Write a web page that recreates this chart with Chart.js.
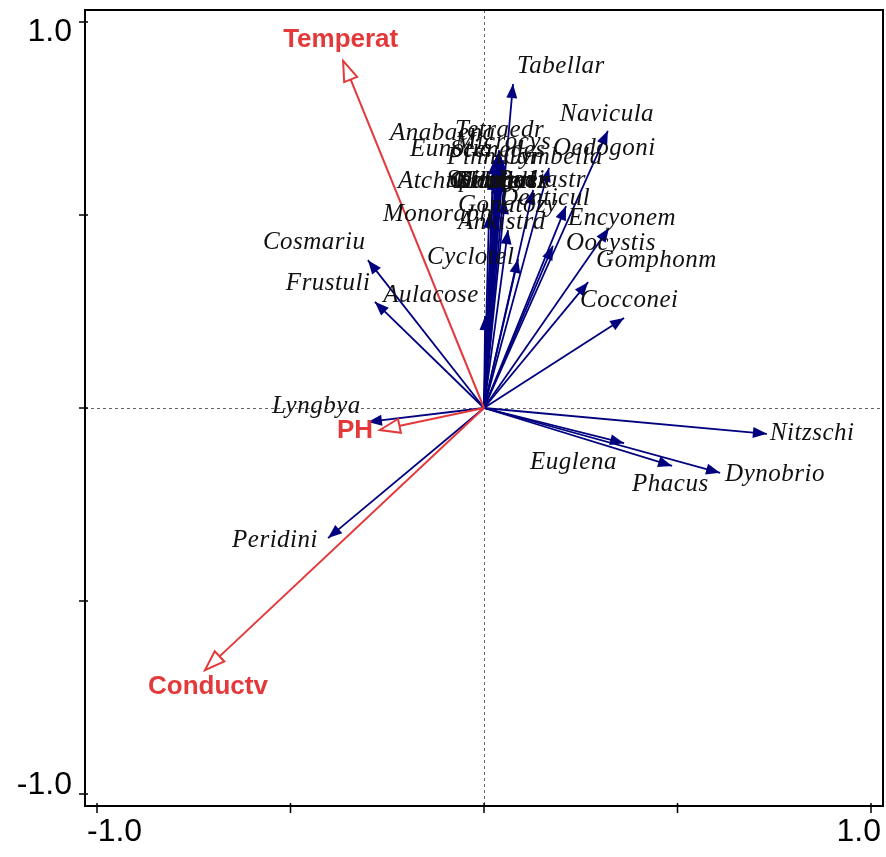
<!DOCTYPE html>
<html>
<head>
<meta charset="utf-8">
<script src="https://cdn.jsdelivr.net/npm/chart.js@4.4.1/dist/chart.umd.min.js"></script>
<style>
  html, body { margin: 0; padding: 0; background: #fff; }
  #chart { display: block; }
</style>
</head>
<body>
<canvas id="chart" width="886" height="857"></canvas>
<script>
// species scores (arrow tips)
var speciesNames = ['Tabellar', 'Navicula', 'Oedogoni', 'Cymbella', 'Tetraedr', 'Microcys',
  'Anabaena', 'Eunotia', 'Scenedes', 'Pinnular', 'Atchnant', 'Chlorell', 'Closteri',
  'Kirchner', 'Selenast', 'Spirogyr', 'Ulothrix', 'Pediastr', 'Gonatozy', 'Monoraph',
  'Ankistrd', 'Denticul', 'Encyonem', 'Oocystis', 'Cyclotel', 'Gomphonm', 'Cocconei',
  'Aulacose', 'Cosmariu', 'Frustuli', 'Lyngbya', 'Peridini', 'Nitzschi', 'Euglena',
  'Phacus', 'Dynobrio'];
var speciesX = [0.075, 0.320, 0.168, 0.049, 0.039, 0.034,
  0.026, 0.031, 0.044, 0.039, 0.023, 0.031, 0.036,
  0.041, 0.047, 0.034, 0.044, 0.127, 0.054, 0.013,
  0.062, 0.212, 0.323, 0.178, 0.088, 0.269, 0.362,
  0.003, -0.300, -0.282, -0.300, -0.403, 0.731, 0.362,
  0.486, 0.610];
var speciesY = [0.839, 0.718, 0.622, 0.642, 0.668, 0.655,
  0.642, 0.630, 0.650, 0.627, 0.601, 0.611, 0.598,
  0.606, 0.596, 0.591, 0.614, 0.565, 0.539, 0.503,
  0.461, 0.523, 0.466, 0.420, 0.386, 0.326, 0.233,
  0.238, 0.383, 0.275, -0.036, -0.337, -0.067, -0.091,
  -0.150, -0.168];

// environmental variables
var envNames = ['Temperat', 'Conductv', 'PH'];
var envX = [-0.364, -0.721, -0.269];
var envY = [0.899, -0.679, -0.057];

var axisTicks = [-1, -0.5, 0, 0.5, 1];
var axisTickLabels = ['-1.0', '', '', '', '1.0'];

// label placement, pixels from the arrow tip (left edge, middle)
var labelOffset = {
  Tabellar: [4, -18], Navicula: [-48, -16], Oedogoni: [4, -19], Cymbella: [0, -3],
  Tetraedr: [-44, -20], Microcys: [-42, -13], Anabaena: [-104, -27], Eunotia: [-86, -15],
  Scenedes: [-51, -7], Pinnular: [-52, -9], Atchnant: [-95, 5], Chlorell: [-47, 9],
  Closteri: [-46, 4], Kirchner: [-45, 7], Selenast: [-44, 3], Spirogyr: [-51, 1],
  Ulothrix: [-41, 10], Pediastr: [-36, -9], Gonatozy: [-47, 5], Monoraph: [-106, 1],
  Ankistrd: [-50, -8], Denticul: [-66, -8], Encyonem: [-41, -10], Oocystis: [13, -2],
  Cyclotel: [-91, -2], Gomphonm: [8, -22], Cocconei: [-44, -18], Aulacose: [-102, -21],
  Cosmariu: [-105, -18], Frustuli: [-89, -18], Lyngbya: [-96, -15], Peridini: [-96, 2],
  Nitzschi: [3, 0], Euglena: [-94, 19], Phacus: [-40, 19], Dynobrio: [5, 2],
  Temperat: [-60, -21], Conductv: [-57, 17], PH: [-43, 1]
};

var BLUE = '#00007f';
var RED = '#e3393b';

function arrowHead(ctx, x0, y0, x1, y1, len, half, filled, color) {
  var ang = Math.atan2(y1 - y0, x1 - x0);
  var bx = x1 - len * Math.cos(ang), by = y1 - len * Math.sin(ang);
  var px = -Math.sin(ang) * half, py = Math.cos(ang) * half;
  ctx.beginPath();
  ctx.moveTo(x1, y1);
  ctx.lineTo(bx + px, by + py);
  ctx.lineTo(bx - px, by - py);
  ctx.closePath();
  if (filled) {
    ctx.fillStyle = color;
    ctx.fill();
  } else {
    ctx.fillStyle = '#fff';
    ctx.fill();
    ctx.strokeStyle = color;
    ctx.lineWidth = 2;
    ctx.stroke();
  }
}

var biplotPlugin = {
  id: 'biplot',
  beforeDatasetsDraw: function(chart) {
    var ctx = chart.ctx, xs = chart.scales.x, ys = chart.scales.y, a = chart.chartArea;
    var x0 = Math.round(xs.getPixelForValue(0)) + 0.5;
    var y0 = Math.round(ys.getPixelForValue(0)) + 0.5;
    ctx.save();
    ctx.strokeStyle = '#666';
    ctx.lineWidth = 1;
    ctx.setLineDash([3, 3]);
    ctx.beginPath();
    ctx.moveTo(x0, a.top);
    ctx.lineTo(x0, a.bottom);
    ctx.moveTo(a.left, y0);
    ctx.lineTo(a.right, y0);
    ctx.stroke();
    ctx.restore();
  },
  afterDatasetsDraw: function(chart) {
    var ctx = chart.ctx, xs = chart.scales.x, ys = chart.scales.y, a = chart.chartArea;
    var ox = xs.getPixelForValue(0), oy = ys.getPixelForValue(0);
    var i, px, py, off;
    ctx.save();

    for (i = 0; i < speciesNames.length; i++) {
      arrowHead(ctx, ox, oy, xs.getPixelForValue(speciesX[i]), ys.getPixelForValue(speciesY[i]), 14, 5.5, true, BLUE);
    }
    for (i = 0; i < envNames.length; i++) {
      arrowHead(ctx, ox, oy, xs.getPixelForValue(envX[i]), ys.getPixelForValue(envY[i]), 20, 7, false, RED);
    }

    ctx.textBaseline = 'middle';
    ctx.textAlign = 'left';
    ctx.font = 'italic 25px "Liberation Serif"';
    ctx.letterSpacing = '0.5px';
    ctx.fillStyle = '#111';
    for (i = 0; i < speciesNames.length; i++) {
      off = labelOffset[speciesNames[i]] || [4, 0];
      px = xs.getPixelForValue(speciesX[i]);
      py = ys.getPixelForValue(speciesY[i]);
      ctx.fillText(speciesNames[i], px + off[0], py + off[1]);
    }
    ctx.letterSpacing = '0px';
    ctx.font = 'bold 26px "Liberation Sans"';
    ctx.fillStyle = RED;
    for (i = 0; i < envNames.length; i++) {
      off = labelOffset[envNames[i]] || [4, 0];
      px = xs.getPixelForValue(envX[i]);
      py = ys.getPixelForValue(envY[i]);
      ctx.fillText(envNames[i], px + off[0], py + off[1]);
    }

    // frame
    ctx.strokeStyle = '#000';
    ctx.lineWidth = 2;
    ctx.strokeRect(a.left, a.top, a.right - a.left, a.bottom - a.top);

    // ticks and tick labels
    ctx.lineWidth = 1.5;
    ctx.fillStyle = '#000';
    ctx.font = '32px "Liberation Sans"';
    for (i = 0; i < axisTicks.length; i++) {
      var tx = xs.getPixelForValue(axisTicks[i]);
      var ty = ys.getPixelForValue(axisTicks[i]);
      ctx.beginPath();
      ctx.moveTo(tx, a.bottom - 3);
      ctx.lineTo(tx, a.bottom + 7);
      ctx.moveTo(a.left - 6, ty);
      ctx.lineTo(a.left + 3, ty);
      ctx.stroke();
      var lab = axisTickLabels[i];
      if (!lab) continue;
      // x labels kept inside the frame width
      var w = ctx.measureText(lab).width;
      var lx = Math.min(Math.max(tx - w / 2, a.left + 2), a.right - w - 2);
      ctx.textAlign = 'left';
      ctx.fillText(lab, lx, a.bottom + 26);
      // y labels kept inside the frame height
      ctx.textAlign = 'right';
      var ly = axisTicks[i] > 0 ? ty + 10 : ty - 9;
      ctx.fillText(lab, a.left - 13, ly);
    }
    ctx.restore();
  }
};

var datasets = [];
for (var e = 0; e < envNames.length; e++) {
  datasets.push({
    label: envNames[e],
    data: [{ x: 0, y: 0 }, { x: envX[e], y: envY[e] }],
    showLine: true,
    borderColor: RED,
    borderWidth: 2,
    pointRadius: 0
  });
}
for (var s = 0; s < speciesNames.length; s++) {
  datasets.push({
    label: speciesNames[s],
    data: [{ x: 0, y: 0 }, { x: speciesX[s], y: speciesY[s] }],
    showLine: true,
    borderColor: BLUE,
    borderWidth: 1.8,
    pointRadius: 0
  });
}

var chart = new Chart(document.getElementById('chart').getContext('2d'), {
  type: 'scatter',
  data: { datasets: datasets },
  options: {
    responsive: false,
    animation: false,
    devicePixelRatio: 1,
    layout: { padding: { top: 10, right: 3, left: 0, bottom: 0 } },
    plugins: { legend: { display: false }, tooltip: { enabled: false } },
    scales: {
      x: {
        type: 'linear', min: -1.031, max: 1.031,
        grid: { display: false }, border: { display: false }, ticks: { display: false },
        afterFit: function(sc) { sc.height = 51; }
      },
      y: {
        type: 'linear', min: -1.031, max: 1.031,
        grid: { display: false }, border: { display: false }, ticks: { display: false },
        afterFit: function(sc) { sc.width = 85; }
      }
    }
  },
  plugins: [biplotPlugin]
});
</script>
</body>
</html>
